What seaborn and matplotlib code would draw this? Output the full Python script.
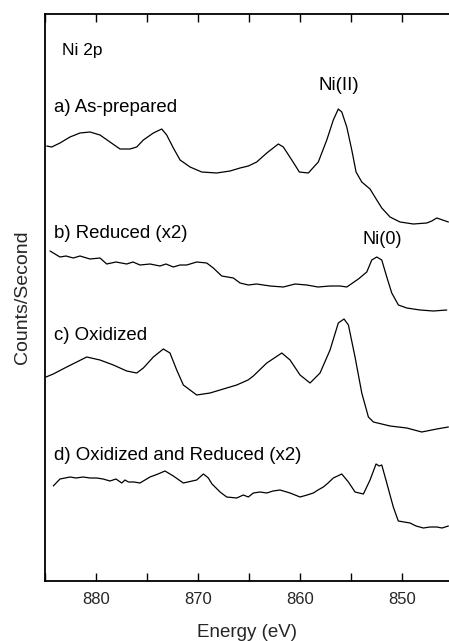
import numpy as np
import pandas as pd
import matplotlib
matplotlib.use("Agg")
import matplotlib.pyplot as plt
from matplotlib.ticker import MultipleLocator, FixedLocator
import seaborn as sns

# ---------------- data (intensities in arbitrary offset units) ----------------
energy_a = [884.83, 884.34, 883.53, 882.55, 881.57, 880.59, 879.61, 878.63, 877.65, 876.67,
            876.01, 875.36, 874.38, 873.56, 873.07, 872.42, 871.76, 870.78, 869.64, 868.17,
            866.86, 865.88, 865.07, 864.25, 863.26, 862.13, 861.64, 860.81, 860.07, 859.19,
            858.21, 857.38, 856.74, 856.25, 855.91, 855.42, 854.93, 854.51, 853.95, 853.14,
            852.48, 851.99, 851.18, 850.20, 848.89, 847.58, 847.09, 846.60, 845.46]
counts_a = [435, 434, 438, 444, 448, 449, 446, 439, 432, 432,
            434, 441, 448, 452, 446, 433, 421, 414, 409, 408,
            410, 413, 415, 419, 428, 437, 434, 421, 409, 408,
            419, 441, 461, 472, 469, 454, 431, 409, 399, 392,
            381, 373, 364, 359, 357, 358, 360, 363, 359]

energy_b = [884.51, 883.53, 882.94, 882.23, 881.57, 880.59, 879.61, 878.95, 878.04, 876.99,
            876.37, 875.69, 874.71, 873.73, 873.14, 872.42, 871.76, 871.11, 870.13, 869.15,
            868.50, 867.68, 866.54, 865.88, 865.07, 864.25, 862.94, 861.64, 860.49, 859.34,
            858.24, 857.06, 856.08, 855.42, 854.28, 853.46, 852.97, 852.48, 851.99, 851.50,
            851.01, 850.36, 849.54, 848.24, 846.93, 845.62]
counts_b = [330, 324, 325, 323, 325, 322, 323, 317, 319, 317,
            319, 316, 317, 315, 317, 314, 316, 316, 319, 318,
            313, 305, 303, 298, 296, 297, 295, 294, 297, 296,
            294, 295, 295, 294, 302, 309, 321, 324, 321, 304,
            288, 276, 273, 271, 270, 271]

energy_c = [884.90, 884.19, 882.87, 881.89, 880.91, 879.61, 878.30, 876.99, 876.01, 875.36,
            874.38, 873.40, 872.75, 872.09, 871.44, 870.13, 868.82, 867.52, 866.21, 865.10,
            864.58, 863.26, 861.79, 860.98, 860.00, 859.02, 858.04, 857.06, 856.25, 855.69,
            855.26, 854.61, 853.95, 853.30, 852.81, 851.18, 849.54, 848.07, 846.60, 845.46]
counts_c = [204, 207, 214, 219, 224, 221, 216, 210, 208, 213,
            224, 232, 228, 211, 196, 186, 188, 192, 196, 201,
            205, 218, 228, 221, 206, 198, 208, 231, 258, 262,
            256, 224, 188, 164, 159, 155, 153, 149, 152, 154]

energy_d = [884.19, 883.53, 882.55, 881.96, 881.25, 880.59, 879.93, 879.31, 878.63, 878.04,
            877.48, 877.16, 876.83, 876.27, 875.69, 874.71, 873.92, 873.24, 872.42, 871.44,
            870.13, 869.48, 869.22, 868.99, 868.63, 868.33, 867.84, 867.19, 866.21, 865.56,
            865.07, 864.58, 863.92, 863.26, 862.65, 861.96, 860.98, 860.00, 859.31, 858.70,
            858.24, 857.72, 857.25, 856.74, 855.91, 855.26, 854.61, 853.79, 853.14, 852.55,
            852.25, 851.99, 851.50, 850.86, 850.37, 849.80, 849.22, 848.63, 847.91, 847.25,
            846.60, 846.08, 845.46]
counts_d = [95, 102, 104, 103, 104, 103, 103, 102, 100, 102,
            98, 101, 99, 99, 98, 104, 107, 110, 105, 98,
            101, 107, 105, 103, 97, 94, 89, 84, 83, 86,
            84, 88, 89, 88, 90, 91, 88, 84, 86, 88,
            91, 94, 98, 103, 107, 99, 89, 87, 101, 117,
            115, 116, 98, 74, 60, 59, 58, 55, 53, 54,
            54, 53, 55]

curve_labels = ["a) As-prepared", "b) Reduced (x2)", "c) Oxidized", "d) Oxidized and Reduced (x2)"]
x_ticks = [880, 870, 860, 850]

# ---------------- plotting ----------------
sns.set_theme(style="ticks")
plt.rcParams["font.family"] = ["Liberation Sans", "DejaVu Sans"]

W, H = 449, 641
fig = plt.figure(figsize=(W / 100, H / 100), dpi=100)
ax = fig.add_axes([45 / W, (H - 581) / H, (449 - 45) / W, (581 - 14) / H])

frames = []
for lab, e, c in zip(curve_labels, [energy_a, energy_b, energy_c, energy_d],
                     [counts_a, counts_b, counts_c, counts_d]):
    frames.append(pd.DataFrame({"Energy": e, "Counts": c, "Sample": lab}))
df = pd.concat(frames, ignore_index=True)

for lab in curve_labels:
    sub = df[df["Sample"] == lab]
    sns.lineplot(data=sub, x="Energy", y="Counts", ax=ax, color="black",
                 linewidth=0.9, estimator=None, sort=False, legend=False)

ax.set_xlim(885, 845.4)
ax.set_ylim(0, 567)
ax.set_yticks([])
ax.xaxis.set_major_locator(FixedLocator(x_ticks))
ax.xaxis.set_minor_locator(MultipleLocator(5))
ax.tick_params(axis="x", which="both", direction="in", top=True, bottom=True,
               length=6, width=1.0, color="black", labelsize=12, pad=8)
ax.tick_params(axis="y", which="both", left=False, right=False)
for s in ["left", "bottom", "top"]:
    ax.spines[s].set_linewidth(1.3)
    ax.spines[s].set_color("black")
ax.spines["right"].set_visible(False)

ax.set_xlabel("Energy (eV)", fontsize=13.5, labelpad=12)
ax.set_ylabel("Counts/Second", fontsize=14, labelpad=10)

def px(x, y):
    # convert reference pixel position to axes fraction
    return ((x - 45) / (449 - 45), (581 - y) / (581 - 14))

txt_kw = dict(transform=ax.transAxes, va="center", ha="left", color="black")
ax.text(*px(62, 51), "Ni 2p", fontsize=12.5, **txt_kw)
ax.text(*px(319, 86), "Ni(II)", fontsize=13.5, **txt_kw)
ax.text(*px(362, 240), "Ni(0)", fontsize=13, **txt_kw)
for lab, y in zip(curve_labels, [107, 233, 336, 455]):
    ax.text(*px(54, y), lab, fontsize=13.4, **txt_kw)

fig.savefig("out.png", dpi=100)
